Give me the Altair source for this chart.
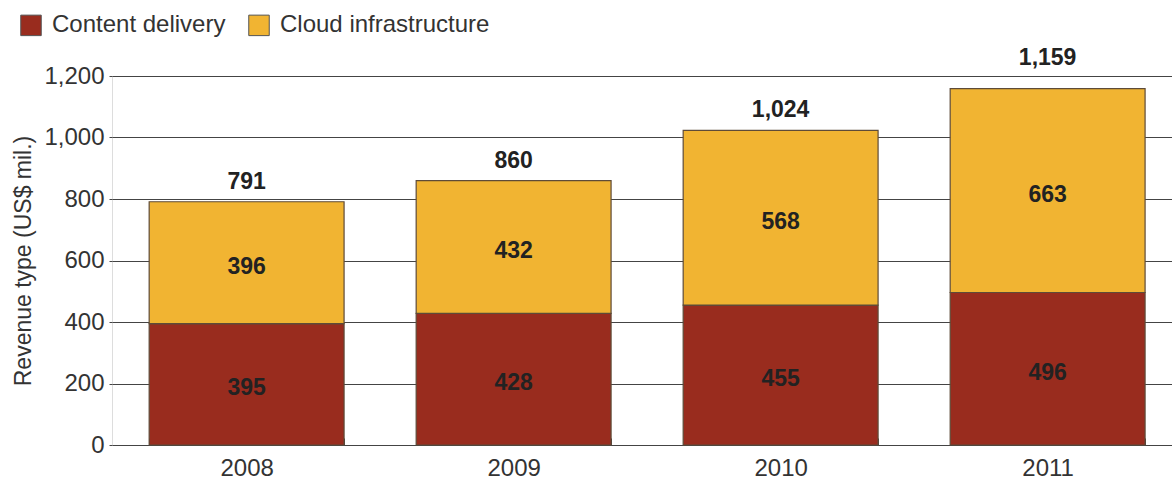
import altair as alt
import pandas as pd

years = ["2008", "2009", "2010", "2011"]
content_delivery = [395, 428, 455, 496]
cloud_infrastructure = [396, 432, 568, 663]
totals = [791, 860, 1024, 1159]
series = ["Content delivery", "Cloud infrastructure"]
colors = ["#992c1e", "#f1b432"]

rows = []
for i, y in enumerate(years):
    rows.append({"year": y, "type": series[0], "value": content_delivery[i], "ord": 0})
    rows.append({"year": y, "type": series[1], "value": cloud_infrastructure[i], "ord": 1})
df = pd.DataFrame(rows)
tot_df = pd.DataFrame({"year": years, "total": totals})

FONT = "Liberation Sans"
FS = 24
FSB = 23

x_enc = alt.X(
    "year:N",
    sort=years,
    title=None,
    scale=alt.Scale(paddingInner=0.27, paddingOuter=0.12, align=0.58),
    axis=alt.Axis(
        labelAngle=0,
        labelFontSize=FS,
        labelColor="#333333",
        labelFont=FONT,
        labelPadding=11,
        tickBand="extent",
        tickSize=7,
        tickColor="#444444",
        offset=-7,
        domain=False,
        grid=False,
    ),
)

y_scale = alt.Scale(domain=[0, 1200], nice=False)

bars = alt.Chart(df).mark_bar(stroke="#5e4b38", strokeWidth=1.2).encode(
    x=x_enc,
    y=alt.Y(
        "value:Q",
        stack="zero",
        scale=y_scale,
        axis=alt.Axis(
            values=[0, 200, 400, 600, 800, 1000, 1200],
            format=",d",
            labelFontSize=FS,
            labelColor="#333333",
            labelFont=FONT,
            labelPadding=5,
            tickSize=3,
            tickColor="#444444",
            domain=False,
            grid=True,
            gridColor="#444444",
            gridWidth=1,
            title="Revenue type (US$ mil.)",
            titleFontSize=23,
            titleFontWeight="normal",
            titleColor="#333333",
            titleFont=FONT,
            titlePadding=8,
        ),
    ),
    color=alt.Color(
        "type:N",
        scale=alt.Scale(domain=series, range=colors),
        legend=alt.Legend(
            title=None,
            orient="none",
            legendX=-93,
            legendY=-63,
            direction="horizontal",
            symbolType="square",
            symbolSize=420,
            symbolStrokeColor="#555555",
            symbolStrokeWidth=1,
            labelFontSize=FS,
            labelFont=FONT,
            labelColor="#333333",
            labelOffset=9,
            labelLimit=400,
            columnPadding=20,
        ),
    ),
    order=alt.Order("ord:Q"),
)

labels = alt.Chart(df).transform_stack(
    stack="value", groupby=["year"], as_=["v0", "v1"], sort=[alt.SortField("ord")]
).transform_calculate(
    mid="(datum.v0 + datum.v1) / 2"
).mark_text(
    fontSize=FSB, fontWeight="bold", color="#222222", font=FONT, baseline="middle", dy=4
).encode(
    x=alt.X("year:N", sort=years),
    y=alt.Y("mid:Q", scale=y_scale),
    text=alt.Text("value:Q", format=",d"),
)

total_base = alt.Chart(tot_df).encode(
    x=alt.X("year:N", sort=years),
    y=alt.Y("total:Q", scale=y_scale),
    text=alt.Text("total:Q", format=",d"),
)

total_labels = total_base.transform_filter("datum.total < 1100").mark_text(
    fontSize=FSB, fontWeight="bold", color="#222222", font=FONT, baseline="middle", dy=-20
)
total_labels_top = total_base.transform_filter("datum.total >= 1100").mark_text(
    fontSize=FSB, fontWeight="bold", color="#222222", font=FONT, baseline="middle", dy=-31
)

chart = alt.layer(bars, labels, total_labels, total_labels_top).properties(
    width=1060,
    height=369,
    autosize=alt.AutoSizeParams(type="none"),
    padding={"left": 112, "top": 76, "right": 0, "bottom": 34},
).configure_view(stroke=None).configure(background="white")

chart.save("out.html", embed_options={"renderer": "svg", "actions": False})
